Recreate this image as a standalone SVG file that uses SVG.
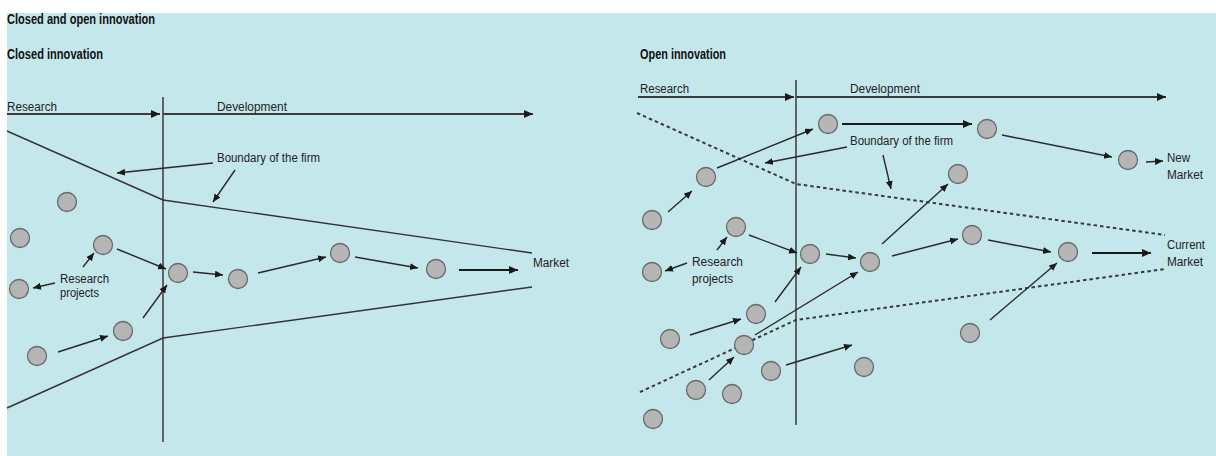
<svg xmlns="http://www.w3.org/2000/svg" width="1216" height="456" viewBox="0 0 1216 456">
<defs>
<marker id="ah" markerUnits="userSpaceOnUse" markerWidth="9" markerHeight="8" refX="8" refY="3.5" orient="auto">
<path d="M0,0 L8,3.5 L0,7 z" fill="#1a1a1a"/>
</marker>
<marker id="ahb" markerUnits="userSpaceOnUse" markerWidth="10" markerHeight="9" refX="9" refY="4" orient="auto">
<path d="M0,0 L9,4 L0,8 z" fill="#1a1a1a"/>
</marker>
<style>
.t{font-family:"Liberation Sans",Arial,sans-serif;font-size:12px;fill:#222;}
.h{font-family:"Liberation Sans",Arial,sans-serif;font-size:14px;font-weight:bold;fill:#111;}
.n{fill:#b5b5b5;stroke:#6a6a6a;stroke-width:1.3;}
.a{fill:none;stroke:#2a2a2a;stroke-width:1.4;marker-end:url(#ah);}
.ab{fill:none;stroke:#1a1a1a;stroke-width:2;marker-end:url(#ahb);}
.ax{fill:none;stroke:#3a3a3a;stroke-width:2.2;}
.b{fill:none;stroke:#333;stroke-width:1.4;}
.d{fill:none;stroke:#3a3a3a;stroke-width:2;stroke-dasharray:3.5,3;}
.v{fill:none;stroke:#444;stroke-width:1.6;}
</style>
</defs>
<rect x="7" y="13" width="1209" height="443" fill="#c4e7ec"/>

<g id="titles">
<text class="h" x="7" y="24" textLength="148" lengthAdjust="spacingAndGlyphs">Closed and open innovation</text>
<text class="h" x="7" y="59" textLength="96" lengthAdjust="spacingAndGlyphs">Closed innovation</text>
<text class="h" x="640" y="59" textLength="86" lengthAdjust="spacingAndGlyphs">Open innovation</text>
</g>

<g id="connectors">
<line class="ax" x1="7" y1="114" x2="160" y2="114" marker-end="url(#ahb)"/>
<line class="ax" x1="163" y1="114" x2="533" y2="114" marker-end="url(#ahb)"/>
<line class="v" x1="163" y1="97" x2="163" y2="442"/>
<polyline class="b" points="7,131 163,200 532,253"/>
<polyline class="b" points="7,408 163,338 532,287"/>
<line class="a" x1="213" y1="163" x2="117" y2="173"/>
<line class="a" x1="235" y1="170" x2="213" y2="202"/>
<line class="a" x1="55" y1="283" x2="33" y2="288"/>
<line class="a" x1="83" y1="267" x2="94" y2="253"/>
<line class="a" x1="117" y1="249" x2="166" y2="269"/>
<line class="a" x1="143" y1="318" x2="167" y2="285"/>
<line class="a" x1="58" y1="352" x2="108" y2="336"/>
<line class="a" x1="193" y1="272" x2="223" y2="275"/>
<line class="a" x1="258" y1="273" x2="326" y2="257"/>
<line class="a" x1="355" y1="257" x2="418" y2="268"/>
<line class="ab" x1="459" y1="270" x2="518" y2="270"/>

<line class="ax" x1="638" y1="97" x2="794" y2="97" marker-end="url(#ahb)"/>
<line class="ax" x1="796" y1="97" x2="1166" y2="97" marker-end="url(#ahb)"/>
<line class="v" x1="796" y1="80" x2="796" y2="425"/>
<polyline class="d" points="637,113 796,184 1165,235"/>
<polyline class="d" points="640,392 796,320 1165,269"/>
<line class="a" x1="668" y1="212" x2="692" y2="191"/>
<line class="a" x1="717" y1="168" x2="813" y2="129"/>
<line class="ab" x1="842" y1="124" x2="972" y2="124"/>
<line class="a" x1="1002" y1="135" x2="1112" y2="157"/>
<line class="a" x1="1146" y1="162" x2="1163" y2="161"/>
<line class="a" x1="847" y1="147" x2="765" y2="163"/>
<line class="a" x1="883" y1="155" x2="891" y2="189"/>
<line class="a" x1="717" y1="250" x2="727" y2="237"/>
<line class="a" x1="687" y1="263" x2="665" y2="271"/>
<line class="a" x1="749" y1="235" x2="797" y2="253"/>
<line class="a" x1="826" y1="254" x2="856" y2="258"/>
<line class="a" x1="775" y1="302" x2="801" y2="267"/>
<line class="a" x1="690" y1="335" x2="741" y2="319"/>
<line class="a" x1="755" y1="335" x2="858" y2="272"/>
<line class="a" x1="709" y1="380" x2="734" y2="357"/>
<line class="a" x1="786" y1="365" x2="852" y2="345"/>
<line class="a" x1="882" y1="244" x2="948" y2="184"/>
<line class="a" x1="892" y1="256" x2="958" y2="239"/>
<line class="a" x1="988" y1="240" x2="1051" y2="252"/>
<line class="ab" x1="1092" y1="253" x2="1151" y2="253"/>
<line class="a" x1="990" y1="320" x2="1057" y2="263"/>
</g>

<g id="closed-labels">
<text class="t" x="7" y="111" textLength="50" lengthAdjust="spacingAndGlyphs">Research</text>
<text class="t" x="217" y="111" textLength="70" lengthAdjust="spacingAndGlyphs">Development</text>
<text class="t" x="217" y="162" textLength="103" lengthAdjust="spacingAndGlyphs">Boundary of the firm</text>
<text class="t" x="60" y="283" textLength="49" lengthAdjust="spacingAndGlyphs">Research</text>
<text class="t" x="60" y="297" textLength="39" lengthAdjust="spacingAndGlyphs">projects</text>
<text class="t" x="533" y="267" textLength="36" lengthAdjust="spacingAndGlyphs">Market</text>
</g>

<g id="open-labels">
<text class="t" x="640" y="93" textLength="49" lengthAdjust="spacingAndGlyphs">Research</text>
<text class="t" x="850" y="93" textLength="70" lengthAdjust="spacingAndGlyphs">Development</text>
<text class="t" x="850" y="145" textLength="103" lengthAdjust="spacingAndGlyphs">Boundary of the firm</text>
<text class="t" x="692" y="266" textLength="51" lengthAdjust="spacingAndGlyphs">Research</text>
<text class="t" x="692" y="283" textLength="41" lengthAdjust="spacingAndGlyphs">projects</text>
<text class="t" x="1167" y="162" textLength="23" lengthAdjust="spacingAndGlyphs">New</text>
<text class="t" x="1167" y="179" textLength="36" lengthAdjust="spacingAndGlyphs">Market</text>
<text class="t" x="1167" y="249" textLength="38" lengthAdjust="spacingAndGlyphs">Current</text>
<text class="t" x="1167" y="266" textLength="36" lengthAdjust="spacingAndGlyphs">Market</text>
</g>

<g id="closed-projects">
<circle id="c1" class="n" cx="67" cy="202" r="9.5"/>
<circle id="c2" class="n" cx="20" cy="238" r="9.5"/>
<circle id="c3" class="n" cx="103" cy="245" r="9.5"/>
<circle id="c4" class="n" cx="19" cy="289" r="9.5"/>
<circle id="c5" class="n" cx="178" cy="273" r="9.5"/>
<circle id="c6" class="n" cx="238" cy="279" r="9.5"/>
<circle id="c7" class="n" cx="123" cy="331" r="9.5"/>
<circle id="c8" class="n" cx="37" cy="356" r="9.5"/>
<circle id="c9" class="n" cx="340" cy="253" r="9.5"/>
<circle id="c10" class="n" cx="436" cy="269" r="9.5"/>
</g>

<g id="open-projects">
<circle id="o1" class="n" cx="828" cy="124" r="9.5"/>
<circle id="o2" class="n" cx="706" cy="177" r="9.5"/>
<circle id="o3" class="n" cx="652" cy="220" r="9.5"/>
<circle id="o4" class="n" cx="736" cy="227" r="9.5"/>
<circle id="o5" class="n" cx="987" cy="129" r="9.5"/>
<circle id="o6" class="n" cx="1128" cy="160" r="9.5"/>
<circle id="o7" class="n" cx="958" cy="174" r="9.5"/>
<circle id="o8" class="n" cx="972" cy="235" r="9.5"/>
<circle id="o9" class="n" cx="1068" cy="252" r="9.5"/>
<circle id="o10" class="n" cx="652" cy="272" r="9.5"/>
<circle id="o11" class="n" cx="810" cy="254" r="9.5"/>
<circle id="o12" class="n" cx="870" cy="262" r="9.5"/>
<circle id="o13" class="n" cx="756" cy="314" r="9.5"/>
<circle id="o14" class="n" cx="670" cy="339" r="9.5"/>
<circle id="o15" class="n" cx="744" cy="345" r="9.5"/>
<circle id="o16" class="n" cx="771" cy="371" r="9.5"/>
<circle id="o17" class="n" cx="696" cy="390" r="9.5"/>
<circle id="o18" class="n" cx="732" cy="394" r="9.5"/>
<circle id="o19" class="n" cx="653" cy="419" r="9.5"/>
<circle id="o20" class="n" cx="864" cy="367" r="9.5"/>
<circle id="o21" class="n" cx="970" cy="333" r="9.5"/>
</g>
</svg>
